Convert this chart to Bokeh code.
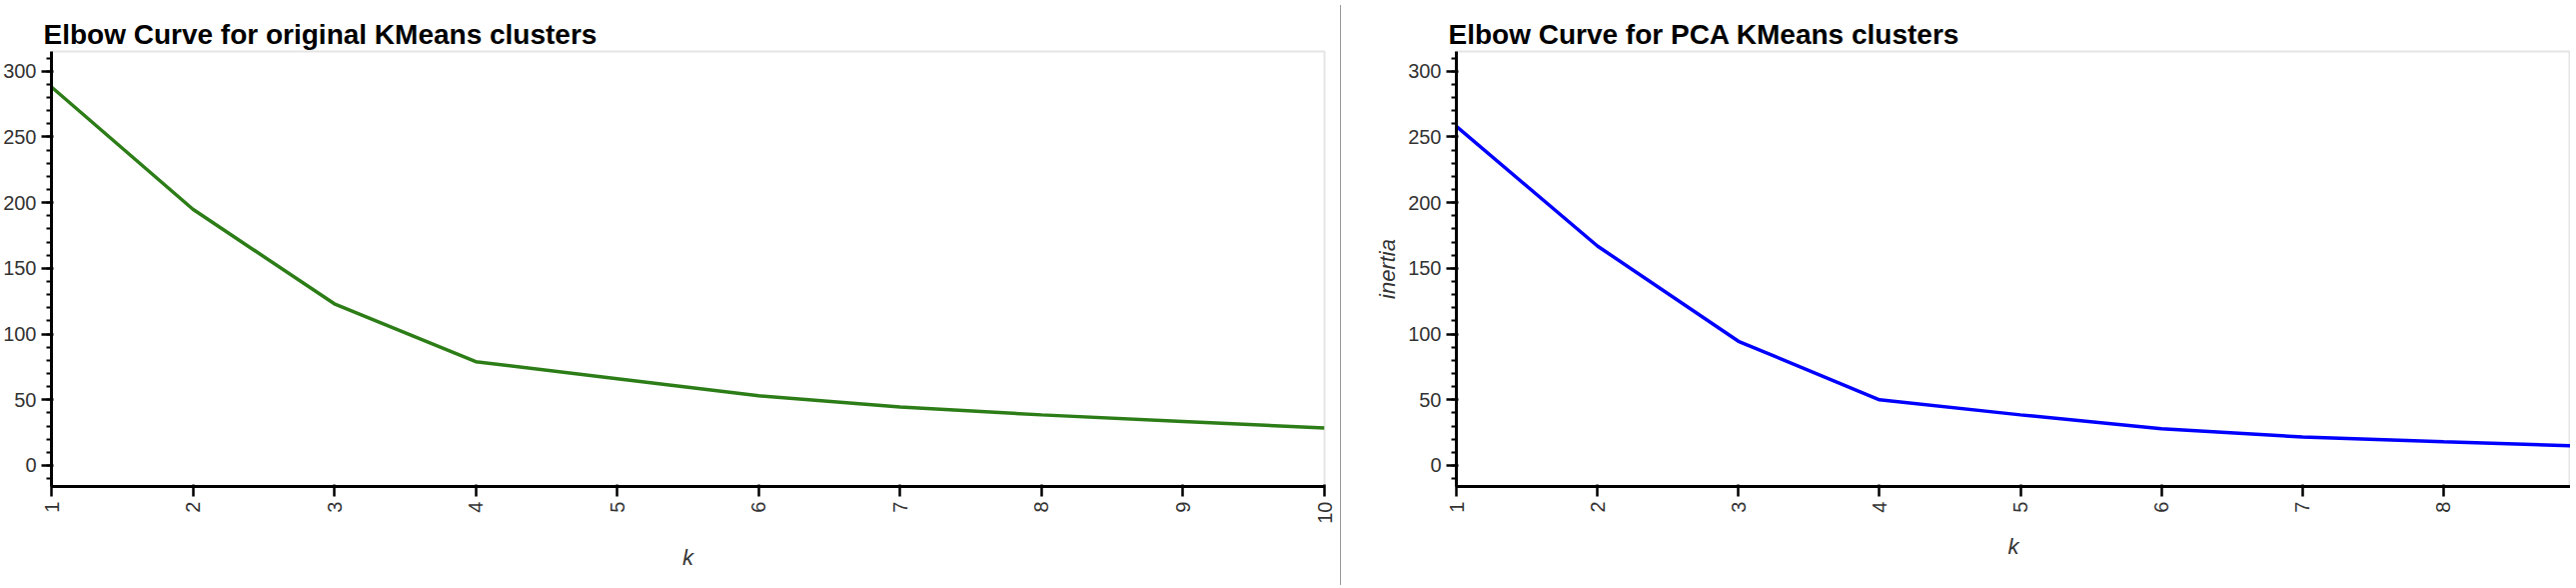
import math
from bokeh.plotting import figure
from bokeh.layouts import row
from bokeh.models import Div, Range1d
from bokeh.embed import file_html
from bokeh.resources import INLINE

k_vals = [1, 2, 3, 4, 5, 6, 7, 8, 9, 10]
inertia_original = [288, 195, 123, 79, 66, 53, 44.5, 38.5, 33.5, 28.5]
inertia_pca = [258, 167, 94.5, 50, 38.5, 28, 21.6, 18, 14.6, 11.5]

FONT = "Liberation Sans"


def elbow(title, y, color, width, border_left, border_right, x_end, ylabel):
    p = figure(width=width, height=572, title=title, output_backend="svg",
               toolbar_location=None, x_range=Range1d(1, x_end),
               y_range=Range1d(-16, 315),
               min_border_left=border_left, min_border_right=border_right,
               min_border_top=51, min_border_bottom=72)
    p.line(k_vals, y, line_color=color, line_width=3.5)
    p.title.text_font = FONT
    p.title.text_font_size = "28px"
    p.title.text_font_style = "bold"
    p.title.text_color = "black"
    p.title.offset = -8
    p.title.standoff = 4
    p.xgrid.visible = False
    p.ygrid.visible = False
    p.outline_line_color = "#e5e5e5"
    p.outline_line_width = 2
    p.xaxis.ticker = k_vals
    p.xaxis.major_label_orientation = math.pi / 2
    p.xaxis.axis_label = "k"
    p.xaxis.axis_label_standoff = 18
    p.yaxis.axis_label = ylabel
    for ax in (p.xaxis, p.yaxis):
        ax.axis_line_width = 3
        ax.major_tick_line_width = 2.5
        ax.minor_tick_line_width = 2
        ax.major_tick_out = 10
        ax.minor_tick_out = 5
        ax.major_label_text_font = FONT
        ax.major_label_text_font_size = "20px"
        ax.major_label_text_color = "#333333"
        ax.axis_label_text_font = FONT
        ax.axis_label_text_font_size = "22px"
        ax.axis_label_text_color = "#333333"
    p.xaxis.minor_tick_line_color = None
    return p


p1 = elbow("Elbow Curve for original KMeans clusters", inertia_original,
           "#2c7d17", 1336, 47, 11, 10, None)
divider = Div(width=1, height=580, styles={"background-color": "#999999"})
p2 = elbow("Elbow Curve for PCA KMeans clusters", inertia_pca,
           "blue", 1225, 110, 0, 8.9, "inertia")

layout = row(p1, divider, p2, spacing=0)
open("out.html", "w").write(file_html(layout, INLINE))
